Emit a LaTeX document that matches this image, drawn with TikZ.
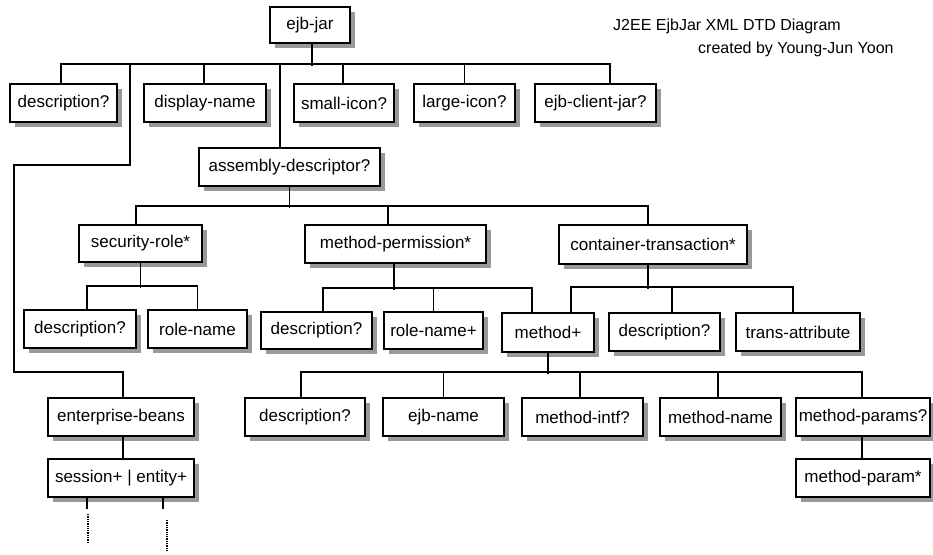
\documentclass[tikz,border=0pt]{standalone}
\usepackage{fontspec}
\setmainfont{Liberation Sans}
\usetikzlibrary{shadows}
\begin{document}
\begin{tikzpicture}[x=1pt,y=-1pt,
  box/.style={draw, fill=white, line width=2pt, inner sep=0pt,
    anchor=north west, minimum height=38pt,
    font=\fontsize{17}{20}\selectfont,
    drop shadow={shadow xshift=5pt, shadow yshift=-5pt, fill=black!40, opacity=1}},
  link/.style={line width=1.9pt},
  stub/.style={line width=1.3pt, densely dotted},
  title/.style={anchor=base west, inner sep=0pt, font=\fontsize{16}{19}\selectfont}]
\useasboundingbox (0,0) rectangle (933,554);

% title
\node[title] (t1) at (613,30) {J2EE EjbJar XML DTD Diagram};
\node[title] (t2) at (698,53) {created by Young-Jun Yoon};

% root and first level
\node[box, minimum width=80pt, minimum height=36pt] (ejbjar) at (269,6) {ejb-jar};
\node[box, minimum width=107pt] (desc1) at (9,83) {description?};
\node[box, minimum width=122pt] (dispname) at (143,83) {display-name};
\node[box, minimum width=100pt] (smallicon) at (293,83) {small-icon?};
\node[box, minimum width=101pt] (largeicon) at (413,83) {large-icon?};
\node[box, minimum width=121pt] (ejbclient) at (534,83) {ejb-client-jar?};

% assembly descriptor subtree
\node[box, minimum width=181pt] (asmdesc) at (198,147) {assembly-descriptor?};
\node[box, minimum width=123pt, minimum height=37pt] (secrole) at (78,224) {security-role*};
\node[box, minimum width=181pt] (methperm) at (304,224) {method-permission*};
\node[box, minimum width=188pt, minimum height=39pt] (conttrans) at (558,224) {container-transaction*};

\node[box, minimum width=112pt] (desc2) at (23,309) {description?};
\node[box, minimum width=99pt] (rolename) at (147,309) {role-name};
\node[box, minimum width=111pt, minimum height=37pt] (desc3) at (260,311) {description?};
\node[box, minimum width=99pt, minimum height=37pt] (rolenameplus) at (383,311) {role-name+};
\node[box, minimum width=92pt, minimum height=39pt] (methodplus) at (501,312) {method+};
\node[box, minimum width=111pt] (desc4) at (608,312) {description?};
\node[box, minimum width=124pt] (transattr) at (735,312) {trans-attribute};

\node[box, minimum width=120pt] (desc5) at (244,397) {description?};
\node[box, minimum width=121pt] (ejbname) at (382,397) {ejb-name};
\node[box, minimum width=121pt] (methintf) at (521,397) {method-intf?};
\node[box, minimum width=121pt] (methname) at (659,397) {method-name};
\node[box, minimum width=134pt] (methparams) at (795,397) {method-params?};
\node[box, minimum width=134pt] (methparam) at (795,458) {method-param*};

% enterprise beans subtree
\node[box, minimum width=146pt] (entbeans) at (47,397) {enterprise-beans};
\node[box, minimum width=146pt] (session) at (47,458) {session+ | entity+};

% connectors: ejb-jar
\draw[link] ([xshift=2pt]ejbjar.south) -- ++(0,22);
\draw[link] ([xshift=-2.5pt]desc1.north) -- ++(0,-19) -| ([xshift=14.5pt]ejbclient.north);
\draw[link] ([xshift=-1pt]dispname.north) -- ++(0,-19);
\draw[link] ([xshift=-1pt]smallicon.north) -- ++(0,-19);
\draw[link] (largeicon.north) -- ++(0,-19);
\draw[link] ([xshift=-9.5pt]asmdesc.north) -- ++(0,-83);
\draw[link] ([xshift=2pt]entbeans.north) |- (14,372) |- (130,165) -- (130,64);

% connectors: assembly-descriptor
\draw[link] (asmdesc.south) -- ++(0,21);
\draw[link] ([xshift=-4.5pt]secrole.north) -- ++(0,-18) -| ([xshift=-5pt]conttrans.north);
\draw[link] ([xshift=-7.5pt]methperm.north) -- ++(0,-18);

% connectors: security-role
\draw[link] (secrole.south) -- ++(0,25);
\draw[link] ([xshift=7pt]desc2.north) -- ++(0,-23) -| (rolename.north);

% connectors: method-permission
\draw[link] ([xshift=-1.5pt]methperm.south) -- ++(0,26);
\draw[link] ([xshift=6.5pt]desc3.north) -- ++(0,-23) -| ([xshift=-16pt]methodplus.north);
\draw[link] (rolenameplus.north) -- ++(0,-23);

% connectors: container-transaction
\draw[link] ([xshift=-5pt]conttrans.south) -- ++(0,24);
\draw[link] ([xshift=23pt]methodplus.north) -- ++(0,-25) -| ([xshift=-5pt]transattr.north);
\draw[link] ([xshift=7.5pt]desc4.north) -- ++(0,-25);

% connectors: method+
\draw[link] (methodplus.south) -- ++(0,21);
\draw[link] ([xshift=-4pt]desc5.north) -- ++(0,-25) -| ([xshift=-1pt]methparams.north);
\draw[link] (ejbname.north) -- ++(0,-25);
\draw[link] ([xshift=-2.5pt]methintf.north) -- ++(0,-25);
\draw[link] ([xshift=-2.5pt]methname.north) -- ++(0,-25);
\draw[link] ([xshift=-1pt]methparams.south) -- ([xshift=-1pt]methparam.north);

% connectors: enterprise-beans
\draw[link] ([xshift=2pt]entbeans.south) -- ([xshift=2pt]session.north);
\draw[link] ([xshift=-34pt]session.south) -- ++(0,11);
\draw[link] ([xshift=42pt]session.south) -- ++(0,11);
\coordinate (s1a) at (88,514);
\coordinate (s1b) at (88,543);
\coordinate (s2a) at (167,520);
\coordinate (s2b) at (167,550);
\draw[stub] (s1a) -- (s1b);
\draw[stub] (s2a) -- (s2b);
\end{tikzpicture}
\end{document}
